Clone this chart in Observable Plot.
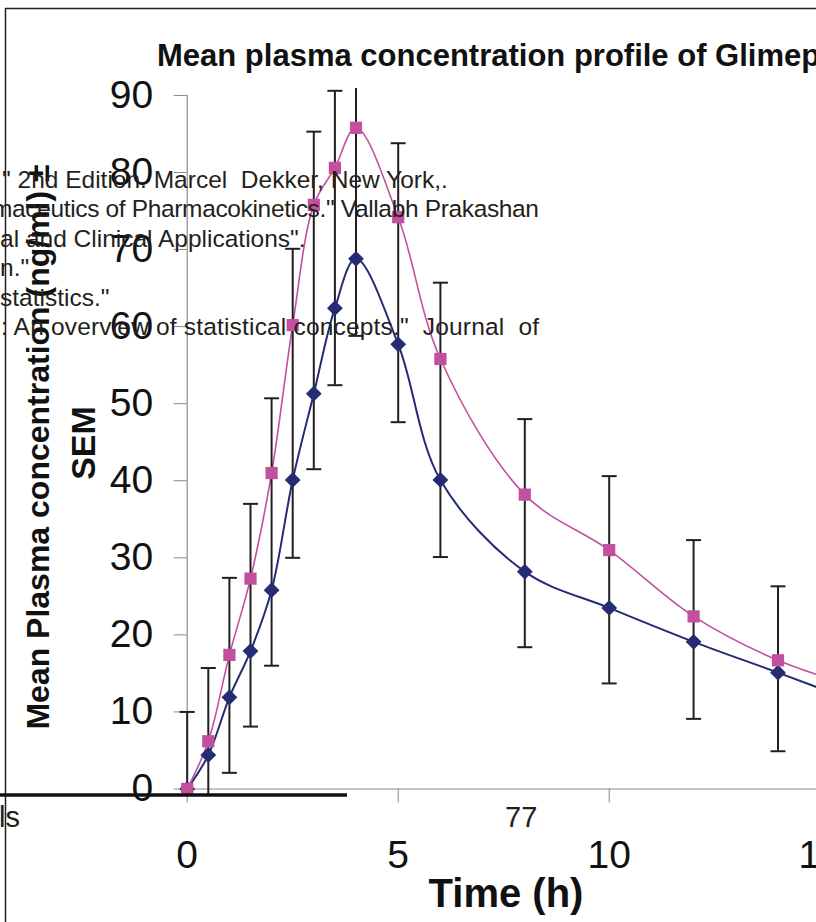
<!DOCTYPE html>
<html><head><meta charset="utf-8">
<script src="https://cdn.jsdelivr.net/npm/d3@7"></script>
<script src="https://cdn.jsdelivr.net/npm/@observablehq/plot@0.6"></script>
<style>
html,body{margin:0;padding:0;background:#fff;overflow:hidden;width:816px;height:922px;}
#chart{position:absolute;left:0;top:0;width:1000px;}
#chart svg{max-width:none !important;width:1000px;height:922px;}
#overlay{position:absolute;left:0;top:0;}
#overlay text{white-space:pre;}
</style></head><body>
<div id="chart"></div>
<svg id="overlay" width="816" height="922"></svg>
<script>
// ---- data ----
const times   = [0, 0.5, 1, 1.5, 2, 2.5, 3, 3.5, 4, 5, 6, 8, 10, 12, 14, 16];
const testConc = [0, 4.4, 11.9, 17.9, 25.8, 40.1, 51.3, 62.4, 68.8, 57.7, 40.1, 28.2, 23.5, 19.1, 15.1, 11.0];   // navy diamonds
const testSEM  = [10, 10, 9.8, 9.8, 9.8, 10.1, 9.8, 10.0, 10.0, 10.1, 10.0, 9.8, 9.8, 10.0, 10.2, 10.0];
const refConc  = [0, 6.2, 17.4, 27.3, 41.0, 60.2, 75.8, 80.6, 85.8, 74.2, 55.8, 38.2, 31.0, 22.4, 16.7, 13.0];  // pink squares
const refSEM   = [10, 9.5, 10, 9.7, 9.7, 9.9, 9.5, 10, 10, 9.6, 9.9, 9.8, 9.6, 9.9, 9.6, 9.6];
const xTicks = [0, 5, 10, 15];
const yTicks = [0, 10, 20, 30, 40, 50, 60, 70, 80, 90];

const title = "Mean plasma concentration profile of Glimepiride";
const xTitle = "Time (h)";
const yTitle1 = "Mean Plasma concentration (ng/ml) \u00b1";
const yTitle2 = "SEM";
const docLines = [
  "\" 2nd Edition. Marcel  Dekker, New York,.",
  "maceutics of Pharmacokinetics.\" Vallabh Prakashan",
  "al and Clinical Applications\".",
  "n.\"",
  "statistics.\"",
  ": An overview of statistical concepts.\"  Journal  of"
];
const pageNo = "77";
const fragment = "ls";

// ---- layout ----
const W = 1000, H = 922;
const yTop = 90.9, yBottomClip = -0.85;
const FONT = "Liberation Sans, Arial, sans-serif";
const NAVY = "#252B74", PINK = "#C2509F", AX = "#8a8a8a", BAR = "#231F20";

const test = times.map((t, i) => ({t, v: testConc[i]}));
const ref = times.map((t, i) => ({t, v: refConc[i]}));
const bars = times.map((t, i) => {
  const lo = testConc[i] - testSEM[i], hi = refConc[i] + refSEM[i];
  return {t, lo: Math.max(lo, yBottomClip), hi: Math.min(hi, yTop), loCap: lo >= 0, hiCap: hi <= yTop, lov: lo, hiv: hi};
});
const caps = [
  ...bars.filter(d => d.loCap).map(d => ({t: d.t, v: d.lov})),
  ...bars.filter(d => d.hiCap).map(d => ({t: d.t, v: d.hiv}))
];
const capSymbol = {draw(ctx) { ctx.moveTo(-7.5, 0); ctx.lineTo(7.5, 0); }};

const chart = Plot.plot({
  width: W, height: H,
  marginLeft: 186.7, marginRight: 0, marginTop: 88, marginBottom: 133.5,
  x: {domain: [0, (W - 186.7) / 42.2]},
  y: {domain: [0, yTop]},
  style: {fontFamily: FONT, background: "transparent", maxWidth: "none"},
  marks: [
    Plot.ruleY([0], {stroke: AX, strokeWidth: 1.2}),
    Plot.ruleX([0], {y1: 0, y2: 90, stroke: AX, strokeWidth: 1.2}),
    Plot.axisY(yTicks, {anchor: "left", tickSize: 13, tickPadding: 21, fontSize: 39, fontFamily: FONT, stroke: AX, fill: "#111", label: null}),
    Plot.axisX(xTicks, {anchor: "bottom", tickSize: 14, tickPadding: 37, fontSize: 39, fontFamily: FONT, stroke: AX, fill: "#111", label: null}),
    Plot.line(test, {x: "t", y: "v", stroke: NAVY, strokeWidth: 2, curve: "catmull-rom"}),
    Plot.line(ref, {x: "t", y: "v", stroke: PINK, strokeWidth: 1.6, curve: "catmull-rom"}),
    Plot.ruleX(bars, {x: "t", y1: "lo", y2: "hi", stroke: BAR, strokeWidth: 2}),
    Plot.dot(caps, {x: "t", y: "v", symbol: capSymbol, stroke: BAR, strokeWidth: 2, fill: "none"}),
    Plot.dot(test, {x: "t", y: "v", symbol: "square", rotate: 45, r: 6.3, fill: NAVY, stroke: "none"}),
    Plot.dot(ref, {x: "t", y: "v", symbol: "square", r: 6.9, fill: PINK, stroke: "none"})
  ]
});
document.getElementById("chart").appendChild(chart);

// ---- overlay texts and page elements ----
const ov = d3.select("#overlay");
ov.append("line").attr("x1", 5).attr("x2", 816).attr("y1", 8.5).attr("y2", 8.5).attr("stroke", "#222").attr("stroke-width", 1.5);
ov.append("line").attr("x1", 5.5).attr("x2", 5.5).attr("y1", 8).attr("y2", 922).attr("stroke", "#222").attr("stroke-width", 1.5);
ov.append("line").attr("x1", 0).attr("x2", 347).attr("y1", 795).attr("y2", 795).attr("stroke", "#111").attr("stroke-width", 3.5);

ov.append("text").attr("x", 157).attr("y", 66).attr("font-family", FONT).attr("font-weight", "bold").attr("font-size", 31).attr("fill", "#111").text(title);
ov.append("text").attr("x", 506).attr("y", 907).attr("text-anchor", "middle").attr("font-family", FONT).attr("font-weight", "bold").attr("font-size", 40).attr("fill", "#111").text(xTitle);
ov.append("text").attr("transform", "translate(48.5,447) rotate(-90)").attr("text-anchor", "middle").attr("font-family", FONT).attr("font-weight", "bold").attr("font-size", 32).attr("fill", "#111").text(yTitle1);
ov.append("text").attr("transform", "translate(95,443) rotate(-90)").attr("text-anchor", "middle").attr("font-family", FONT).attr("font-weight", "bold").attr("font-size", 34).attr("fill", "#111").text(yTitle2);

const docX = [2, -8, 0, 0, 0, 1];
const docLen = [null, 547, null, null, null, 538];
docLines.forEach((s, i) => {
  const t = ov.append("text").attr("x", docX[i]).attr("y", 188 + 29.4 * i)
    .attr("font-family", FONT).attr("font-size", 24.5).attr("fill", "#231F20").text(s);
  if (docLen[i]) t.attr("textLength", docLen[i]).attr("lengthAdjust", "spacing");
});
ov.append("text").attr("x", 505).attr("y", 827).attr("font-family", FONT).attr("font-size", 29).attr("fill", "#231F20").text(pageNo);
ov.append("text").attr("x", -1).attr("y", 827).attr("font-family", FONT).attr("font-size", 29).attr("fill", "#231F20").text(fragment);
</script>
</body></html>
